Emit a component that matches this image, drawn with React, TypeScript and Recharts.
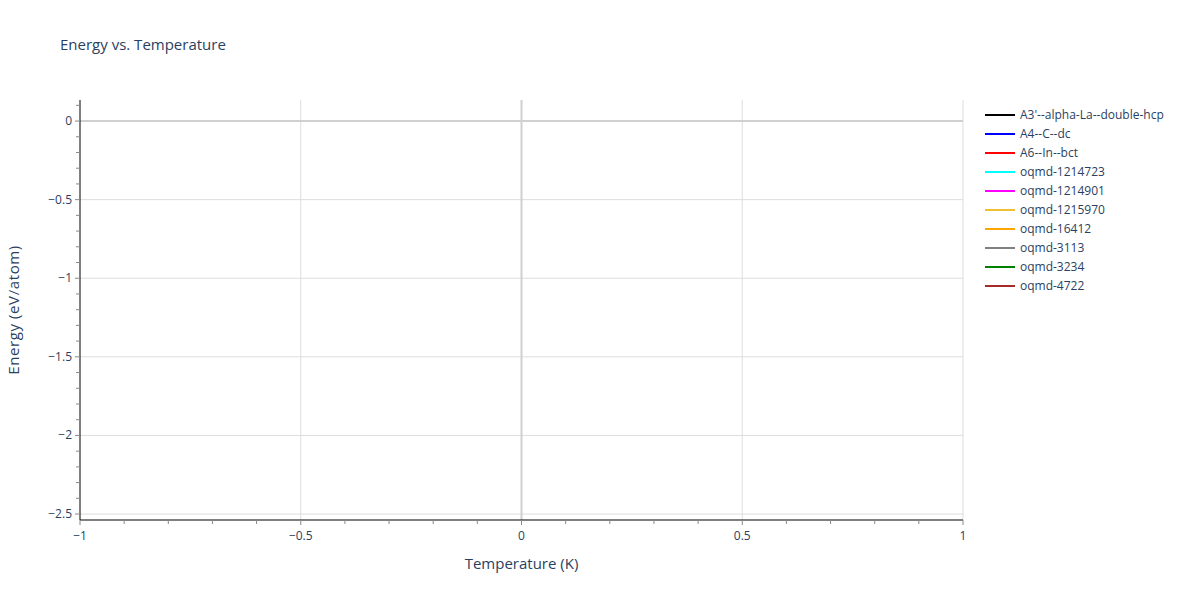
import React from 'react';
import {
    LineChart,
    Line,
    XAxis,
    YAxis,
    ReferenceLine
} from 'recharts';

const seriesNames = [
    "A3'--alpha-La--double-hcp",
    'A4--C--dc',
    'A6--In--bct',
    'oqmd-1214723',
    'oqmd-1214901',
    'oqmd-1215970',
    'oqmd-16412',
    'oqmd-3113',
    'oqmd-3234',
    'oqmd-4722'
];
const seriesColors = [
    '#000000',
    '#0000ff',
    '#ff0000',
    '#00ffff',
    '#ff00ff',
    '#f0c030',
    '#ffa500',
    '#808080',
    '#008000',
    '#a52a2a'
];
// no visible points in the source plot: the traces are empty
const temperatures: number[] = [];
const energies: number[] = [];

const xMajorTicks = [-1, -0.5, 0, 0.5, 1];
const xMinorTicks = [-0.9, -0.8, -0.7, -0.6, -0.4, -0.3, -0.2, -0.1, 0.1, 0.2, 0.3, 0.4, 0.6, 0.7, 0.8, 0.9];
const yMajorTicks = [0, -0.5, -1, -1.5, -2, -2.5];
const yMinorTicks = [0.1, -0.1, -0.2, -0.3, -0.4, -0.6, -0.7, -0.8, -0.9, -1.1, -1.2, -1.3, -1.4, -1.6, -1.7, -1.8, -1.9, -2.1, -2.2, -2.3, -2.4];
const xDomain = [-1, 1];
const yDomain = [-2.538, 0.134];

const data = temperatures.map((t, i) => {
    const row: Record<string, number> = { temperature: t };
    seriesNames.forEach((name) => {
        row[name] = energies[i];
    });
    return row;
});

const FONT = '"Open Sans", verdana, arial, sans-serif';
const TEXT = '#2a3f5f';
const GRID = '#dddddd';
const ZERO = '#d0d0d0';

const fmt = (v: number) => (v < 0 ? `\u2212${Math.abs(v)}` : `${v}`);
const isMajor = (v: number, majors: number[]) => majors.some((m) => Math.abs(m - v) < 1e-9);

const XTick = ({ x, y, payload }: any) => {
    const major = isMajor(payload.value, xMajorTicks);
    return (
        <g>
            <line x1={x} x2={x} y1={y} y2={y + (major ? 5 : 4)} stroke="#888" strokeWidth={1} />
            {major && (
                <text x={x} y={y + 20} textAnchor="middle" fill={TEXT} fontSize={12} fontFamily={FONT}>
                    {fmt(payload.value)}
                </text>
            )}
        </g>
    );
};

const YTick = ({ x, y, payload }: any) => {
    const major = isMajor(payload.value, yMajorTicks);
    return (
        <g>
            <line x1={x} x2={x - (major ? 5 : 4)} y1={y} y2={y} stroke="#888" strokeWidth={1} />
            {major && (
                <text x={x - 8} y={y + 4} textAnchor="end" fill={TEXT} fontSize={12} fontFamily={FONT}>
                    {fmt(payload.value)}
                </text>
            )}
        </g>
    );
};

const App: React.FC = () => {
    return (
        <div style={{ position: 'absolute', left: 0, top: 0, width: 1200, height: 600, background: '#fff', fontFamily: FONT }}>
            <div style={{ position: 'absolute', left: 60, top: 34, fontSize: 15, color: TEXT }}>
                Energy vs. Temperature
            </div>
            <LineChart
                width={1200}
                height={600}
                data={data}
                margin={{ top: 100, right: 237, bottom: 0, left: 0 }}
            >
                {yMajorTicks.filter((v) => v !== 0).map((v) => (
                    <ReferenceLine key={`gy${v}`} y={v} stroke={GRID} strokeWidth={1} />
                ))}
                {xMajorTicks.filter((v) => v !== 0 && v !== -1).map((v) => (
                    <ReferenceLine key={`gx${v}`} x={v} stroke={GRID} strokeWidth={1} />
                ))}
                <ReferenceLine y={0} stroke={ZERO} strokeWidth={2} />
                <ReferenceLine x={0} stroke={ZERO} strokeWidth={2} />
                <XAxis
                    dataKey="temperature"
                    type="number"
                    domain={xDomain}
                    ticks={[...xMajorTicks, ...xMinorTicks].sort((a, b) => a - b)}
                    interval={0}
                    allowDataOverflow
                    tickLine={false}
                    tickSize={0}
                    tickMargin={0}
                    tick={<XTick />}
                    axisLine={{ stroke: '#000', strokeWidth: 1 }}
                    height={80}
                    label={{ value: 'Temperature (K)', position: 'insideBottom', offset: 31, fill: TEXT, fontSize: 15, fontFamily: FONT }}
                />
                <YAxis
                    type="number"
                    domain={yDomain}
                    ticks={[...yMajorTicks, ...yMinorTicks].sort((a, b) => a - b)}
                    interval={0}
                    allowDataOverflow
                    tickLine={false}
                    tickSize={0}
                    tickMargin={0}
                    tick={<YTick />}
                    axisLine={{ stroke: '#000', strokeWidth: 1 }}
                    width={80}
                    label={{ value: 'Energy (eV/atom)', angle: -90, position: 'insideLeft', offset: 14, fill: TEXT, fontSize: 15, fontFamily: FONT, style: { textAnchor: 'middle', letterSpacing: '0.6px' } }}
                />
                {seriesNames.map((name, i) => (
                    <Line
                        key={name}
                        type="linear"
                        dataKey={name}
                        stroke={seriesColors[i]}
                        strokeWidth={2}
                        dot={false}
                        activeDot={false}
                        isAnimationActive={false}
                    />
                ))}
            </LineChart>
            <div style={{ position: 'absolute', left: 985, top: 105 }}>
                {seriesNames.map((name, i) => (
                    <div key={name} style={{ display: 'flex', alignItems: 'center', height: 19 }}>
                        <div style={{ width: 30, height: 2, background: seriesColors[i], marginRight: 5 }} />
                        <span style={{ fontSize: 12, color: TEXT, whiteSpace: 'nowrap' }}>{name}</span>
                    </div>
                ))}
            </div>
        </div>
    );
};

export default App;
